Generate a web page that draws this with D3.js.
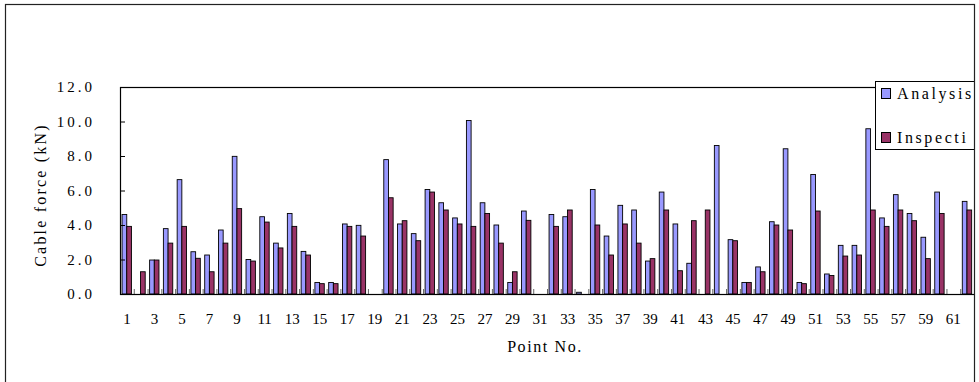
<!DOCTYPE html>
<html>
<head>
<meta charset="utf-8">
<script src="https://cdnjs.cloudflare.com/ajax/libs/d3/7.8.5/d3.min.js"></script>
<style>
  body { margin: 0; background: #fff; }
  text { font-family: "Liberation Serif", "DejaVu Serif", serif; fill: #000; }
</style>
</head>
<body>
<div id="chart"></div>
<script>
// point numbers on the x axis
const categories = [1, 2, 3, 4, 5, 6, 7, 8, 9, 10, 11, 12, 13, 14, 15, 16, 17, 18, 19, 20,
  21, 22, 23, 24, 25, 26, 27, 28, 29, 30, 31, 32, 33, 34, 35, 36, 37, 38, 39, 40,
  41, 42, 43, 44, 45, 46, 47, 48, 49, 50, 51, 52, 53, 54, 55, 56, 57, 58, 59, 60, 61, 62];

// cable force (kN)
const analysis = [4.61, 0, 1.97, 3.79, 6.63, 2.45, 2.26, 3.71, 7.98, 2.0,
  4.48, 2.95, 4.67, 2.47, 0.67, 0.67, 4.06, 3.98, 0, 7.79,
  4.06, 3.5, 6.06, 5.29, 4.41, 10.06, 5.29, 4.0, 0.67, 4.81,
  0, 4.61, 4.48, 0.1, 6.06, 3.36, 5.14, 4.87, 1.91, 5.91,
  4.06, 1.78, 0, 8.61, 3.15, 0.67, 1.57, 4.19, 8.42, 0.67,
  6.93, 1.16, 2.82, 2.82, 9.58, 4.41, 5.76, 4.67, 3.29, 5.91, 0, 5.37];
const inspection = [3.92, 1.29, 1.97, 2.95, 3.92, 2.07, 1.29, 2.95, 4.95, 1.91,
  4.17, 2.67, 3.92, 2.26, 0.6, 0.6, 3.92, 3.36, 0, 5.58,
  4.25, 3.09, 5.91, 4.87, 4.06, 3.92, 4.67, 2.95, 1.29, 4.27,
  0, 3.92, 4.87, 0, 4.0, 2.26, 4.06, 2.95, 2.05, 4.87,
  1.35, 4.25, 4.87, 0, 3.09, 0.67, 1.29, 4.0, 3.71, 0.6,
  4.81, 1.07, 2.2, 2.26, 4.87, 3.92, 4.87, 4.25, 2.05, 4.67, 0, 4.87];

// legend labels as they show in the (cropped) picture
const seriesNames = ["Analysis", "Inspecti"];
const yTicks = [0, 2, 4, 6, 8, 10, 12];
const xTickLabels = categories.filter(d => d % 2 === 1);

const width = 979, height = 382;
const plot = { left: 120, top: 87, right: 974, bottom: 294 };
const colors = ["#9999ff", "#993366"];

const svg = d3.select("#chart").append("svg")
  .attr("width", width)
  .attr("height", height);

svg.append("defs").append("clipPath").attr("id", "frameClip")
  .append("rect").attr("x", 5).attr("y", 5).attr("width", 970).attr("height", 390);

const root = svg.append("g").attr("clip-path", "url(#frameClip)");

const x0 = d3.scaleBand()
  .domain(categories)
  .range([plot.left, plot.right])
  .padding(0);

const bw = x0.bandwidth();
const x1 = d3.scaleBand()
  .domain(seriesNames)
  .range([bw * 0.15, bw * 0.83]);

const y = d3.scaleLinear()
  .domain([0, 12])
  .range([plot.bottom, plot.top]);

const rows = categories.map((c, i) => ({ cat: c, values: [analysis[i], inspection[i]] }));

// category boundary ticks
root.append("g")
  .selectAll("line")
  .data(categories.concat([null]))
  .join("line")
  .attr("x1", (d, i) => plot.left + i * bw + 0.5)
  .attr("x2", (d, i) => plot.left + i * bw + 0.5)
  .attr("y1", plot.bottom)
  .attr("y2", plot.bottom - 5)
  .attr("stroke", "#666")
  .attr("stroke-width", 1);

// bars
root.append("g")
  .selectAll("g")
  .data(rows)
  .join("g")
  .attr("transform", d => "translate(" + x0(d.cat) + ",0)")
  .selectAll("rect")
  .data(d => d.values.map((v, k) => ({ key: seriesNames[k], k: k, v: v })).filter(e => e.v > 0))
  .join("rect")
  .attr("x", d => x1(d.key))
  .attr("y", d => y(d.v))
  .attr("width", x1.bandwidth())
  .attr("height", d => y(0) - y(d.v))
  .attr("fill", d => colors[d.k])
  .attr("stroke", "#000")
  .attr("stroke-width", 0.9);

// y axis
const yAxis = d3.axisLeft(y)
  .tickValues(yTicks)
  .tickSize(-5)
  .tickPadding(25)
  .tickFormat(d3.format(".1f"));

const yg = root.append("g")
  .attr("transform", "translate(" + plot.left + ",0)")
  .call(yAxis);
yg.select(".domain").remove();
yg.selectAll(".tick line").attr("stroke", "#000");
yg.selectAll(".tick text")
  .style("font-size", "15px")
  .style("letter-spacing", "3px")
  .style("font-family", "Liberation Serif");

// x axis labels
const xAxis = d3.axisBottom(x0)
  .tickValues(xTickLabels)
  .tickSize(0)
  .tickPadding(19);

const xg = root.append("g")
  .attr("transform", "translate(0," + plot.bottom + ")")
  .call(xAxis);
xg.select(".domain").remove();
xg.selectAll(".tick text")
  .style("font-size", "15px")
  .style("font-family", "Liberation Serif");

// plot frame
root.append("rect")
  .attr("x", plot.left + 0.5)
  .attr("y", plot.top + 0.5)
  .attr("width", plot.right - plot.left + 10)
  .attr("height", plot.bottom - plot.top)
  .attr("fill", "none")
  .attr("stroke", "#000")
  .attr("stroke-width", 1.2);

// axis titles
root.append("text")
  .attr("x", 545)
  .attr("y", 352)
  .attr("text-anchor", "middle")
  .style("font-size", "16px")
  .style("letter-spacing", "1.6px")
  .text("Point No.");

root.append("text")
  .attr("transform", "translate(46,195) rotate(-90)")
  .attr("text-anchor", "middle")
  .style("font-size", "16px")
  .style("letter-spacing", "2.2px")
  .text("Cable force (kN)");

// legend
const legend = root.append("g");
legend.append("rect")
  .attr("x", 875.5).attr("y", 81.5)
  .attr("width", 110).attr("height", 68)
  .attr("fill", "#fff")
  .attr("stroke", "#000");

seriesNames.forEach((name, k) => {
  const ly = 88 + k * 44;
  legend.append("rect")
    .attr("x", 881.5).attr("y", ly + 0.5)
    .attr("width", 9).attr("height", 10)
    .attr("fill", colors[k])
    .attr("stroke", "#000");
  legend.append("text")
    .attr("x", 897).attr("y", ly + 11)
    .style("font-size", "16px")
    .style("letter-spacing", "2.6px")
    .text(name);
});

// outer chart frame
svg.append("rect")
  .attr("x", 5.5).attr("y", 4.5)
  .attr("width", 969).attr("height", 400)
  .attr("fill", "none")
  .attr("stroke", "#222")
  .attr("stroke-width", 1.2);
</script>
</body>
</html>
